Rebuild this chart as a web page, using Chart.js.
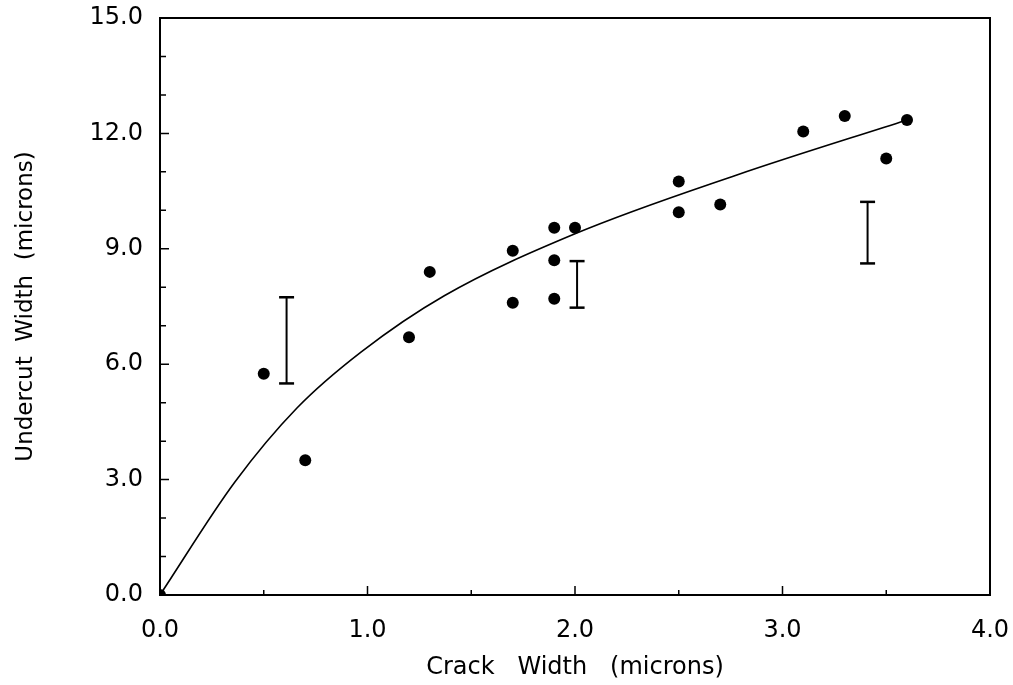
<!DOCTYPE html>
<html><head><meta charset="utf-8">
<script src="https://cdn.jsdelivr.net/npm/chart.js@4"></script>
<style>html,body{margin:0;padding:0;background:#fff;} #wrap{width:1013px;height:685px;position:relative;}</style>
</head><body><div id="wrap"><canvas id="c"></canvas></div>
<script>
const crackWidth = [0, 0.5, 0.7, 1.2, 1.3, 1.7, 1.7, 1.9, 1.9, 1.9, 2.0, 2.5, 2.5, 2.7, 3.1, 3.3, 3.5, 3.6];
const undercutWidth = [0, 5.75, 3.5, 6.7, 8.4, 8.95, 7.6, 9.55, 8.7, 7.7, 9.55, 10.75, 9.95, 10.15, 12.05, 12.45, 11.35, 12.35];
const fitX = [0, 0.36, 0.66, 0.97, 1.37, 2.0, 2.78, 3.6];
const fitY = [0, 2.93, 4.86, 6.32, 7.78, 9.39, 10.92, 12.35];
const errX = [0.61, 2.01, 3.41];
const errLow = [5.5, 7.47, 8.62];
const errHigh = [7.74, 8.68, 10.22];
const xTitle = 'Crack   Width   (microns)';
const yTitle = 'Undercut  Width  (microns)';
const FONT = '"DejaVu Sans", sans-serif';

const errSets = errX.map((x, i) => ({
  type: 'line',
  data: [{x: x, y: errLow[i]}, {x: x, y: errHigh[i]}],
  borderColor: '#000', borderWidth: 2,
  pointStyle: 'line', pointRadius: 7.5, pointBorderWidth: 2.5, pointBorderColor: '#000',
  showLine: true, fill: false
}));

const frame = {
  id: 'frame',
  afterDatasetsDraw(chart) {
    const {ctx, chartArea: a, scales: {x, y}} = chart;
    ctx.save();
    ctx.strokeStyle = '#000';
    ctx.lineWidth = 2;
    ctx.strokeRect(a.left, a.top, a.right - a.left, a.bottom - a.top);
    ctx.lineWidth = 1.5;
    ctx.beginPath();
    x.ticks.forEach(t => {
      if (t.value <= x.min || t.value >= x.max) return;
      const px = x.getPixelForValue(t.value);
      const len = (Math.abs(t.value % 1) < 1e-9) ? 9 : 5;
      ctx.moveTo(px, a.bottom); ctx.lineTo(px, a.bottom - len);
    });
    y.ticks.forEach(t => {
      if (t.value <= y.min || t.value >= y.max) return;
      const py = y.getPixelForValue(t.value);
      const len = (t.value % 3 === 0) ? 9 : 6;
      ctx.moveTo(a.left, py); ctx.lineTo(a.left + len, py);
    });
    ctx.stroke();
    ctx.restore();
  }
};

new Chart(document.getElementById('c'), {
  type: 'scatter',
  data: {
    datasets: [
      {
        type: 'line',
        data: fitX.map((x, i) => ({x: x, y: fitY[i]})),
        borderColor: '#000', borderWidth: 1.6, pointRadius: 0,
        cubicInterpolationMode: 'monotone', fill: false, showLine: true
      },
      {
        data: crackWidth.map((x, i) => ({x: x, y: undercutWidth[i]})),
        backgroundColor: '#000', borderColor: '#000', pointRadius: 6, pointBorderWidth: 0
      },
      ...errSets
    ]
  },
  options: {
    responsive: true, maintainAspectRatio: false, animation: false,
    layout: {padding: {top: 18, right: 23, left: 0, bottom: 0}},
    plugins: {legend: {display: false}, tooltip: {enabled: false}},
    scales: {
      x: {
        type: 'linear', min: 0, max: 4,
        afterFit(s) { s.height = 90; s.paddingLeft = 0; s.paddingRight = 0; },
        ticks: {stepSize: 0.5, autoSkip: false, maxRotation: 0, color: '#000', padding: 21,
          font: {family: FONT, size: 24},
          callback: v => (Math.abs(v % 1) < 1e-9 ? v.toFixed(1) : '')},
        grid: {drawOnChartArea: false, drawTicks: false},
        border: {color: '#000', width: 2},
        title: {display: true, text: xTitle, color: '#000', font: {family: FONT, size: 24}, padding: {top: 0, bottom: 3}}
      },
      y: {
        type: 'linear', min: 0, max: 15,
        afterFit(s) { s.width = 160; s.paddingTop = 0; s.paddingBottom = 0; },
        ticks: {stepSize: 1, autoSkip: false, color: '#000', padding: 17,
          font: {family: FONT, size: 24},
          callback: v => (v % 3 === 0 ? v.toFixed(1) : '')},
        grid: {drawOnChartArea: false, drawTicks: false},
        border: {color: '#000', width: 2},
        title: {display: true, text: yTitle, color: '#000', font: {family: FONT, size: 23}, padding: {top: 12, bottom: 0}}
      }
    }
  },
  plugins: [frame]
});
</script></body></html>
